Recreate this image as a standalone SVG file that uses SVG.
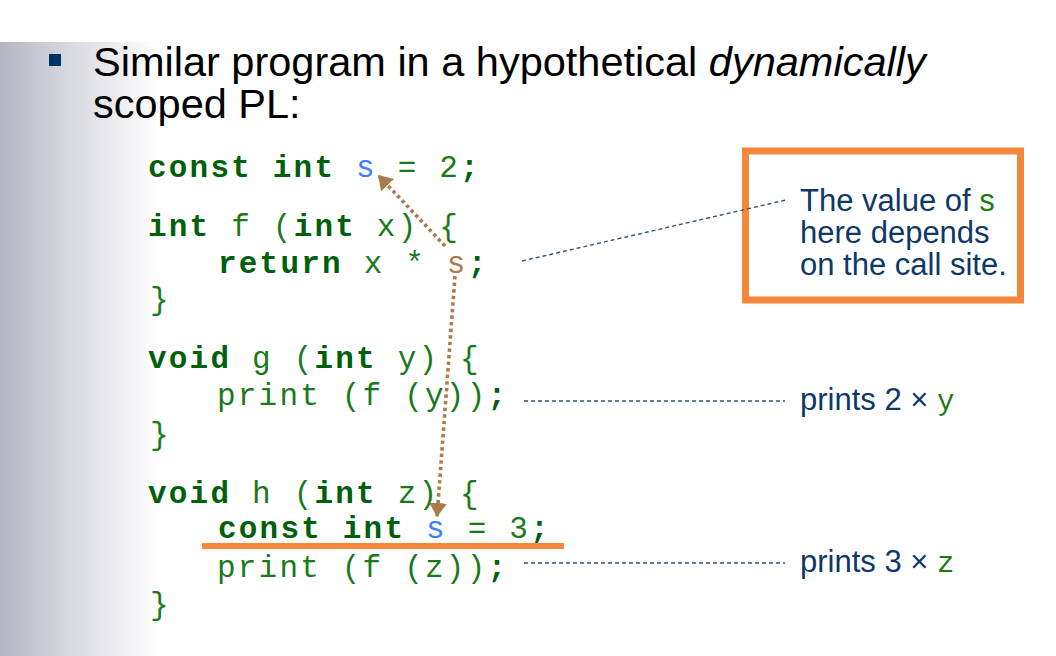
<svg xmlns="http://www.w3.org/2000/svg" width="1056" height="656" viewBox="0 0 1056 656">
  <defs>
    <linearGradient id="sidebar" x1="0" y1="0" x2="1" y2="0">
      <stop offset="0" stop-color="#b3b5c3"/>
      <stop offset="0.45" stop-color="#d9dae1"/>
      <stop offset="1" stop-color="#ffffff"/>
    </linearGradient>
    <marker id="tip" markerUnits="userSpaceOnUse" markerWidth="20" markerHeight="20" refX="14" refY="9" orient="auto">
      <path d="M0,0 L14,9 L0,18 Z" fill="#a97b4d"/>
    </marker>
    <style>
      .title { font-family: "Liberation Sans", Arial, sans-serif; font-size: 41.5px; fill: #000; }
      .code { font-family: "Liberation Mono", "Courier New", monospace; font-size: 31px; letter-spacing: 2.2px; fill: #1a7a1a; white-space: pre; }
      .kw { font-weight: bold; fill: #00600a; }
      .var { fill: #3a7dff; }
      .ref { fill: #a97b4d; }
      .note { font-family: "Liberation Sans", Arial, sans-serif; font-size: 31px; fill: #0d3868; }
      .mono { font-family: "Liberation Mono", "Courier New", monospace; font-size: 29px; fill: #1d7a10; }
      .green { fill: #1d7a10; }
      .leader { fill: none; stroke: #2f5474; stroke-width: 1.4; stroke-dasharray: 4 3; }
      .dots { fill: none; stroke: #a97b4d; stroke-width: 3.6; stroke-dasharray: 3.4 3.2; }
    </style>
  </defs>

  <rect x="0" y="0" width="1056" height="656" fill="#ffffff"/>
  <rect x="0" y="42" width="160" height="614" fill="url(#sidebar)"/>

  <!-- bullet heading -->
  <g id="heading">
    <rect x="49" y="54" width="12" height="12" fill="#003366"/>
    <text class="title" x="93" y="76">Similar program in a hypothetical <tspan font-style="italic">dynamically</tspan></text>
    <text class="title" x="93" y="118">scoped PL:</text>
  </g>

  <!-- program listing -->
  <g id="code">
    <text class="code" x="148" y="177"><tspan class="kw">const int</tspan> <tspan class="var">s</tspan> = 2<tspan class="kw">;</tspan></text>
    <text class="code" x="148" y="236"><tspan class="kw">int</tspan> f (<tspan class="kw">int</tspan> x) {</text>
    <text class="code" x="218" y="273"><tspan class="kw">return</tspan> x * <tspan class="ref">s</tspan><tspan class="kw">;</tspan></text>
    <text class="code" x="150" y="309">}</text>
    <text class="code" x="148" y="368"><tspan class="kw">void</tspan> g (<tspan class="kw">int</tspan> y) {</text>
    <text class="code" x="217" y="405">print (f (y))<tspan class="kw">;</tspan></text>
    <text class="code" x="150" y="444">}</text>
    <text class="code" x="148" y="503"><tspan class="kw">void</tspan> h (<tspan class="kw">int</tspan> z) {</text>
    <text class="code" x="218" y="538"><tspan class="kw">const int</tspan> <tspan class="var">s</tspan> = 3<tspan class="kw">;</tspan></text>
    <text class="code" x="217" y="577">print (f (z))<tspan class="kw">;</tspan></text>
    <text class="code" x="150" y="614">}</text>
  </g>

  <!-- underline on the local binding in h -->
  <g id="highlight">
    <rect x="202" y="543" width="362" height="6" fill="#f5873a"/>
  </g>

  <!-- callout box -->
  <g id="callout">
    <rect x="745.5" y="151" width="275" height="149" fill="#ffffff" stroke="#f5873a" stroke-width="7"/>
    <text class="note" x="800" y="211">The value of <tspan class="green">s</tspan></text>
    <text class="note" x="800" y="243">here depends</text>
    <text class="note" x="800" y="275">on the call site.</text>
  </g>

  <!-- result labels -->
  <g id="label-g">
    <text class="note" x="800" y="410">prints 2 × <tspan class="mono">y</tspan></text>
  </g>
  <g id="label-h">
    <text class="note" x="800" y="572">prints 3 × <tspan class="mono">z</tspan></text>
  </g>

  <!-- connectors -->
  <g id="connectors">
    <line class="leader" x1="522" y1="261" x2="786" y2="200"/>
    <line class="leader" x1="524" y1="401" x2="785" y2="401"/>
    <line class="leader" x1="524" y1="563" x2="785" y2="563"/>
    <line class="dots" x1="445" y1="246" x2="378" y2="175" marker-end="url(#tip)"/>
    <line class="dots" x1="455" y1="276" x2="437" y2="517" marker-end="url(#tip)"/>
  </g>
</svg>
